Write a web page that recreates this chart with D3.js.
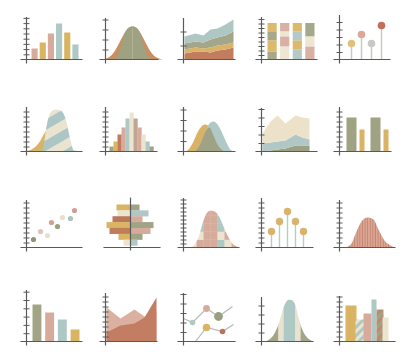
<!DOCTYPE html>
<html>
<head>
<meta charset="utf-8">
<script src="https://cdn.jsdelivr.net/npm/d3@7"></script>
<style>
  body { margin: 0; background: #fff; }
</style>
</head>
<body>
<div id="chart"></div>
<script>
const W = 414, H = 360;

// palette
const C = {
  sage: "#a0a385", mustard: "#d9b462", rose: "#d7ab9c", blue: "#aec8c5",
  cream: "#ece4cf", terra: "#c07b5f", gray: "#c9c9c5", axis: "#595959"
};

// ---- data ----
// row 1
const barsA = [11, 17, 26, 36, 27, 15];
const barsAColors = [C.rose, C.mustard, C.rose, C.blue, C.mustard, C.blue];

const bellOuterA = [[-4,0],[3,2],[9,8],[14,17],[20,28],[27,33],[34,28],[40,17],[45,8],[51,2],[58,0]];
const bellInnerA = [[9,0],[13,6],[16,15],[19,25],[22,31],[27,33],[32,31],[35,25],[38,15],[41,6],[45,0]];

const stackX = [1, 12, 20, 27, 34, 42, 50];
const stackTerra = [6, 8, 8, 7, 9, 10, 12];
const stackMustard = [4, 4, 3, 5, 5, 5, 5];
const stackSage = [6, 6, 6, 8, 8, 9, 11];
const stackBlue = [7, 8, 7, 10, 9, 11, 12];

const pctBars = [[21, 31, 25, 23], [35, 28, 14, 23], [26, 26, 25, 23], [35, 28, 37]];
const pctColors = [
  ["#a5a88b", "#dcb96b", "#a5a88b", "#dcb96b"],
  ["#eee6d3", "#d9b0a3", "#eee6d3", "#d9b0a3"],
  ["#b2cbc8", "#dcb96b", "#b2cbc8", "#dcb96b"],
  ["#d9b0a3", "#eee6d3", "#a5a88b"]
];

const lolliA = [16, 25, 16, 34];
const lolliAColors = ["#dcc27a", "#dba796", "#c8c8c4", "#c06f58"];

// row 2
const bellOuterB = [[-6,0],[2,1],[8,4],[14,11],[19,20],[25,24],[31,20],[36,11],[42,4],[48,1],[56,0]];
const bellInnerB = [[15,0],[17,4],[19,19],[21,30],[24,39],[29,42],[34,41],[39,33],[42,20],[45,7],[47,0]];

const histB = [5, 10, 17, 24, 33, 39, 33, 24, 17, 10, 5];
const histBColors = [C.sage, C.mustard, C.terra, C.rose, C.blue, C.cream, "#bfa594", C.rose, C.cream, C.blue, C.sage];

const overlapX = [2, 6, 10, 14, 18, 22, 26, 30, 34, 38, 42, 46, 50];
const overlapMustard = [0, 3, 10, 19, 25, 27, 24, 16, 7, 2, 0, 0, 0];
const overlapBlue = [0, 0, 0, 3, 10, 20, 28, 30, 27, 20, 11, 3, 0];

const layerX = [1, 9, 16, 24, 34, 41, 48];
const layerSage = [0, 1, 2, 3, 6, 6, 6];
const layerBlue = [8, 8, 8, 8, 11, 8, 6];
const layerCream = [10, 21, 26, 17, 19, 20, 21];

const groupSage = [34, 34];
const groupMustard = [22, 22];

// row 3
const scatterX = [7, 14, 21, 25, 31, 36, 44, 48];
const scatterY = [8, 16, 12, 25, 21, 30, 29, 37];
const scatterColors = ["#8f9479", "#dcc3bd", "#e8e0cb", "#d4a08f", "#9a9f80", "#e8e0cb", "#a9c4c2", "#d49c92"];

const pyrLeft = [14, 13, 18, 24, 21, 12, 7];
const pyrRight = [9, 18, 12, 23, 20, 12, 7];
const pyrLeftColors = [C.mustard, C.cream, "#b9795a", C.mustard, "#bf7d5c", C.mustard, C.cream];
const pyrRightColors = [C.sage, C.blue, C.rose, C.sage, C.rose, C.sage, C.blue];

const bellPatch = [[7,0],[11,3],[15,10],[20,27],[23,34],[27,37],[31,36],[35,32],[40,21],[44,12],[48,5],[53,1],[57,0]];
const patchColors = [ // rows bottom to top
  [C.cream, C.rose, C.rose, C.rose, C.blue, C.cream, C.rose],
  [C.blue, C.cream, C.rose, C.rose, C.cream, C.rose, C.cream],
  [C.cream, C.blue, C.rose, C.rose, C.blue, C.cream, C.blue],
  [C.rose, C.blue, C.rose, C.rose, C.blue, C.rose, C.cream],
  [C.cream, C.cream, C.rose, C.rose, C.cream, C.cream, C.cream]
];

const lolliC = [16, 26, 36, 26, 16];

const bellStripe = [[6,0],[12,4],[17,16],[22,26],[28,30],[34,28],[39,18],[45,7],[51,2],[56,0]];

// row 4
const barsD = [37, 29, 22, 12];
const barsDColors = ["#a1a586", C.rose, C.blue, C.mustard];

const mountX = [1, 15, 29, 39, 51];
const mountRose = [34, 23, 32, 25, 30];
const mountTerra = [9, 16, 18, 24, 44];

const line1X = [0, 9, 23, 35, 49];
const line1Y = [23, 19, 33, 25, 35];
const line2X = [12, 23, 39, 50];
const line2Y = [0, 14, 10, 17];
const markers = [
  { s: 1, i: 1, r: 2.8, c: C.blue }, { s: 1, i: 2, r: 3.4, c: C.rose }, { s: 1, i: 3, r: 4.4, c: "#9a9f80" },
  { s: 2, i: 1, r: 3.8, c: "#dbb566" }, { s: 2, i: 2, r: 2.8, c: "#b9735c" }
];

const bellBand = [[4,0],[9,3],[13,8],[18,20],[22,34],[25,40],[28,42],[31,41],[34,36],[37,24],[40,14],[44,6],[48,2],[52,0]];
const bandEdges = [4, 17, 22, 34, 39, 52];
const bandColors = ["#a3a587", "#e9e2cf", C.blue, "#e9e2cf", "#a3a587"];

const binX0 = [6, 16, 24, 32, 37, 43];
const binX1 = [17, 25, 32, 37, 44, 49];
const binVals = [36, 22, 28, 42, 32, 24];
const binFills = [C.mustard, "url(#stripeBC2)", C.rose, C.blue, "url(#stripeST)", C.cream];

// ---- layout ----
const colX = [26.5, 105.5, 183.5, 261.5, 339.5];
const rowY = [59.5, 151.5, 247.5, 341.5];

const svg = d3.select("#chart").append("svg").attr("width", W).attr("height", H);
const defs = svg.append("defs");

function stripePattern(id, bg, fg, size, band, angle) {
  const pat = defs.append("pattern").attr("id", id)
    .attr("patternUnits", "userSpaceOnUse")
    .attr("width", size).attr("height", size)
    .attr("patternTransform", `rotate(${angle})`);
  pat.append("rect").attr("width", size).attr("height", size).attr("fill", bg);
  pat.append("rect").attr("width", size).attr("height", band).attr("fill", fg);
}
stripePattern("stripeBC", "#e9e3cf", "#abc6c4", 18, 9, -30);
stripePattern("stripeBC2", C.cream, C.blue, 6, 3, -45);
stripePattern("stripeST", C.sage, "#c4866a", 6, 2.5, -45);

const vp = defs.append("pattern").attr("id", "vstripe")
  .attr("patternUnits", "userSpaceOnUse").attr("width", 2.6).attr("height", 10);
vp.append("rect").attr("width", 2.6).attr("height", 10).attr("fill", "#dba796");
vp.append("rect").attr("x", 1.7).attr("width", 0.9).attr("height", 10).attr("fill", "#c5826d");

const idX = d3.scaleLinear().domain([0, 60]).range([0, 60]);

function panel(c, r, top, tickStep, xLen) {
  const g = svg.append("g").attr("transform", `translate(${colX[c]},${rowY[r]})`);
  const h = rowY[r] - top;
  const y = d3.scaleLinear().domain([0, h]).range([0, -h]);
  return { g, y, h, tickStep, xLen };
}

function drawAxes(p) {
  const { g, y, h, tickStep, xLen } = p;
  if (tickStep) {
    const ax = g.append("g")
      .call(d3.axisLeft(y).tickValues(d3.range(tickStep, h + 0.5, tickStep)).tickSize(3).tickFormat(""));
    ax.select(".domain").remove();
    ax.selectAll(".tick line").attr("x1", -3).attr("x2", 3)
      .attr("stroke", C.axis).attr("stroke-width", 1);
  }
  g.append("line").attr("x1", 0).attr("x2", 0).attr("y1", -h).attr("y2", 4)
    .attr("stroke", C.axis).attr("stroke-width", 1.2);
  g.append("line").attr("x1", -6).attr("x2", xLen).attr("y1", 0).attr("y2", 0)
    .attr("stroke", C.axis).attr("stroke-width", 1.2);
}

function bellArea(p) {
  return d3.area().x(d => idX(d[0])).y0(p.y(0)).y1(d => p.y(d[1])).curve(d3.curveMonotoneX);
}

// ===== Row 1 =====
{ // bars
  const p = panel(0, 0, 17, 5.2, 56);
  const x = d3.scaleBand().domain(d3.range(barsA.length)).range([5, 52]).paddingInner(0.25);
  p.g.selectAll(null).data(barsA).join("rect")
    .attr("x", (d, i) => x(i)).attr("width", x.bandwidth())
    .attr("y", d => p.y(d)).attr("height", d => p.y(0) - p.y(d))
    .attr("fill", (d, i) => barsAColors[i]);
  drawAxes(p);
}
{ // bell with tails
  const p = panel(1, 0, 18, 10, 53);
  const a = bellArea(p);
  p.g.append("path").datum(bellOuterA).attr("d", a).attr("fill", "#c98e62");
  p.g.append("path").datum(bellInnerA).attr("d", a).attr("fill", "#9ea283");
  p.g.append("line").attr("x1", idX(27)).attr("x2", idX(27)).attr("y1", p.y(31)).attr("y2", p.y(0))
    .attr("stroke", "#b5b89c").attr("stroke-width", 0.8);
  drawAxes(p);
}
{ // stacked area
  const p = panel(2, 0, 18, 14, 52);
  const rows = stackX.map((x, i) => ({ x, terra: stackTerra[i], mustard: stackMustard[i], sage: stackSage[i], blue: stackBlue[i] }));
  const keys = ["terra", "mustard", "sage", "blue"];
  const fills = { terra: "#c27c5e", mustard: "#d9b468", sage: "#a3a689", blue: "#afc7c3" };
  const series = d3.stack().keys(keys)(rows);
  const area = d3.area().x(d => idX(d.data.x)).y0(d => p.y(d[0])).y1(d => p.y(d[1]));
  p.g.selectAll(null).data(series).join("path").attr("d", area).attr("fill", d => fills[d.key]);
  drawAxes(p);
}
{ // 100% stacked
  const p = panel(3, 0, 17, 4.5, 56);
  const x = d3.scaleBand().domain(d3.range(pctBars.length)).range([6, 53]).paddingInner(0.27);
  const y100 = d3.scaleLinear().domain([0, 100]).range([-0.5, -36.5]);
  pctBars.forEach((segs, b) => {
    const ends = d3.cumsum(segs);
    p.g.selectAll(null).data(segs).join("rect")
      .attr("x", x(b)).attr("width", x.bandwidth())
      .attr("y", (d, i) => y100(ends[i]))
      .attr("height", (d, i) => y100(ends[i] - d) - y100(ends[i]))
      .attr("fill", (d, i) => pctColors[b][i]);
  });
  drawAxes(p);
}
{ // lollipops
  const p = panel(4, 0, 15, 7.5, 51);
  const x = d3.scalePoint().domain(d3.range(lolliA.length)).range([12, 42]);
  p.g.selectAll(null).data(lolliA).join("line")
    .attr("x1", (d, i) => x(i)).attr("x2", (d, i) => x(i))
    .attr("y1", p.y(0)).attr("y2", d => p.y(d))
    .attr("stroke", "#c9c9c6").attr("stroke-width", 1.5);
  p.g.selectAll(null).data(lolliA).join("circle")
    .attr("cx", (d, i) => x(i)).attr("cy", d => p.y(d)).attr("r", 3.8)
    .attr("fill", (d, i) => lolliAColors[i]);
  drawAxes(p);
}

// ===== Row 2 =====
{ // striped bell
  const p = panel(0, 1, 107, 5, 56);
  const a = bellArea(p);
  p.g.append("path").datum(bellOuterB).attr("d", a).attr("fill", "#d8b468");
  p.g.append("path").datum(bellInnerB).attr("d", a).attr("fill", "url(#stripeBC)");
  drawAxes(p);
}
{ // histogram
  const p = panel(1, 1, 107, 5, 52);
  const x = d3.scaleBand().domain(d3.range(histB.length)).range([4, 48]);
  p.g.selectAll(null).data(histB).join("rect")
    .attr("x", (d, i) => x(i)).attr("width", x.bandwidth() + 0.2)
    .attr("y", d => p.y(d)).attr("height", d => p.y(0) - p.y(d))
    .attr("fill", (d, i) => histBColors[i]);
  drawAxes(p);
}
{ // overlapping bells
  const p = panel(2, 1, 107, 10.5, 52);
  const area = vals => d3.area().x((d, i) => idX(overlapX[i])).y0(p.y(0)).y1(d => p.y(d)).curve(d3.curveMonotoneX)(vals);
  const both = overlapMustard.map((v, i) => Math.min(v, overlapBlue[i]));
  p.g.append("path").attr("d", area(overlapMustard)).attr("fill", "#d9b266");
  p.g.append("path").attr("d", area(overlapBlue)).attr("fill", "#b0c9c6");
  p.g.append("path").attr("d", area(both)).attr("fill", "#9fa284");
  drawAxes(p);
}
{ // layered area
  const p = panel(3, 1, 108, 8.5, 56);
  const rows = layerX.map((x, i) => ({ x, sage: layerSage[i], blue: layerBlue[i], cream: layerCream[i] }));
  const fills = { sage: "#9da083", blue: "#afc8c5", cream: "#ebe2c9" };
  const series = d3.stack().keys(["sage", "blue", "cream"])(rows);
  const area = d3.area().x(d => idX(d.data.x)).y0(d => p.y(d[0])).y1(d => p.y(d[1]));
  p.g.selectAll(null).data(series).join("path").attr("d", area).attr("fill", d => fills[d.key]);
  drawAxes(p);
}
{ // grouped bars
  const p = panel(4, 1, 107, 5, 52);
  const x0 = d3.scaleBand().domain(d3.range(groupSage.length)).range([7, 55]);
  p.g.selectAll(null).data(groupSage).join("rect")
    .attr("x", (d, i) => x0(i)).attr("width", 10)
    .attr("y", d => p.y(d)).attr("height", d => p.y(0) - p.y(d)).attr("fill", "#9fa283");
  p.g.selectAll(null).data(groupMustard).join("rect")
    .attr("x", (d, i) => x0(i) + 13).attr("width", 5)
    .attr("y", d => p.y(d)).attr("height", d => p.y(0) - p.y(d)).attr("fill", "#d9b466");
  drawAxes(p);
}

// ===== Row 3 =====
{ // scatter
  const p = panel(0, 2, 200, 5, 56);
  p.g.selectAll(null).data(scatterX).join("circle")
    .attr("cx", d => idX(d)).attr("cy", (d, i) => p.y(scatterY[i])).attr("r", 2.6)
    .attr("fill", (d, i) => scatterColors[i]);
  drawAxes(p);
}
{ // diverging bars
  const g = svg.append("g").attr("transform", `translate(130.5,${rowY[2]})`);
  const yb = d3.scaleBand().domain(d3.range(pyrLeft.length)).range([-43, -2]);
  const xs = d3.scaleLinear().domain([0, 30]).range([0, 30]);
  g.selectAll(null).data(pyrLeft).join("rect")
    .attr("x", d => -xs(d)).attr("width", d => xs(d))
    .attr("y", (d, i) => yb(i)).attr("height", yb.bandwidth() + 0.2)
    .attr("fill", (d, i) => pyrLeftColors[i]);
  g.selectAll(null).data(pyrRight).join("rect")
    .attr("x", 0).attr("width", d => xs(d))
    .attr("y", (d, i) => yb(i)).attr("height", yb.bandwidth() + 0.2)
    .attr("fill", (d, i) => pyrRightColors[i]);
  g.append("line").attr("x1", 0).attr("x2", 0).attr("y1", -50).attr("y2", 3)
    .attr("stroke", C.axis).attr("stroke-width", 1.2);
  g.append("line").attr("x1", -27).attr("x2", 30).attr("y1", 0).attr("y2", 0)
    .attr("stroke", C.axis).attr("stroke-width", 1.2);
}
{ // patchwork bell
  const p = panel(2, 2, 198, 4, 56);
  const clip = defs.append("clipPath").attr("id", "clipPatch");
  clip.append("path").datum(bellPatch).attr("d", bellArea(p));
  const cx = d3.scaleBand().domain(d3.range(7)).range([6, 55]);
  const cy = d3.scaleBand().domain(d3.range(5).reverse()).range([-40, 0]);
  const cells = patchColors.flatMap((row, r) => row.map((c, k) => ({ r, k, c })));
  p.g.append("g").attr("clip-path", "url(#clipPatch)")
    .selectAll("rect").data(cells).join("rect")
    .attr("x", d => cx(d.k)).attr("width", cx.bandwidth() + 0.3)
    .attr("y", d => cy(d.r)).attr("height", cy.bandwidth() + 0.3)
    .attr("fill", d => d.c);
  drawAxes(p);
}
{ // mustard lollipops
  const p = panel(3, 2, 198, 5, 52);
  const x = d3.scalePoint().domain(d3.range(lolliC.length)).range([10, 42]);
  p.g.selectAll(null).data(lolliC).join("line")
    .attr("x1", (d, i) => x(i)).attr("x2", (d, i) => x(i))
    .attr("y1", p.y(0)).attr("y2", d => p.y(d))
    .attr("stroke", "#b9cbc9").attr("stroke-width", 1.4);
  p.g.selectAll(null).data(lolliC).join("circle")
    .attr("cx", (d, i) => x(i)).attr("cy", d => p.y(d)).attr("r", 3.7)
    .attr("fill", "#d9b36c");
  drawAxes(p);
}
{ // striped bell
  const p = panel(4, 2, 200, 5, 56);
  p.g.append("path").datum(bellStripe).attr("d", bellArea(p)).attr("fill", "url(#vstripe)");
  drawAxes(p);
}

// ===== Row 4 =====
{ // descending bars
  const p = panel(0, 3, 290, 8.3, 56);
  const x = d3.scaleBand().domain(d3.range(barsD.length)).range([6, 53]).paddingInner(0.3);
  p.g.selectAll(null).data(barsD).join("rect")
    .attr("x", (d, i) => x(i)).attr("width", x.bandwidth())
    .attr("y", d => p.y(d)).attr("height", d => p.y(0) - p.y(d))
    .attr("fill", (d, i) => barsDColors[i]);
  drawAxes(p);
}
{ // mountains
  const p = panel(1, 3, 293, 5, 52);
  const area = vals => d3.area().x((d, i) => idX(mountX[i])).y0(p.y(0)).y1(d => p.y(d))(vals);
  p.g.append("path").attr("d", area(mountRose)).attr("fill", "#dcb0a1");
  p.g.append("path").attr("d", area(mountTerra)).attr("fill", "#c27d62");
  drawAxes(p);
}
{ // lines with markers
  const p = panel(2, 3, 293, 9.5, 52);
  const line = d3.line().x(d => idX(d[0])).y(d => p.y(d[1]));
  const l1 = line1X.map((x, i) => [x, line1Y[i]]);
  const l2 = line2X.map((x, i) => [x, line2Y[i]]);
  p.g.append("path").datum(l1).attr("d", line).attr("fill", "none").attr("stroke", "#b8b8b6").attr("stroke-width", 1.2);
  p.g.append("path").datum(l2).attr("d", line).attr("fill", "none").attr("stroke", "#b8b8b6").attr("stroke-width", 1.2);
  p.g.selectAll(null).data(markers).join("circle")
    .attr("cx", d => idX((d.s === 1 ? l1 : l2)[d.i][0]))
    .attr("cy", d => p.y((d.s === 1 ? l1 : l2)[d.i][1]))
    .attr("r", d => d.r).attr("fill", d => d.c);
  drawAxes(p);
}
{ // banded bell
  const p = panel(3, 3, 297, 9, 52);
  const clip = defs.append("clipPath").attr("id", "clipBand");
  clip.append("path").datum(bellBand).attr("d", bellArea(p));
  p.g.append("g").attr("clip-path", "url(#clipBand)")
    .selectAll("rect").data(bandColors).join("rect")
    .attr("x", (d, i) => idX(bandEdges[i])).attr("width", (d, i) => idX(bandEdges[i + 1]) - idX(bandEdges[i]))
    .attr("y", p.y(46)).attr("height", p.y(0) - p.y(46))
    .attr("fill", d => d);
  drawAxes(p);
}
{ // mixed bins
  const p = panel(4, 3, 296, 5, 56);
  p.g.selectAll(null).data(binVals).join("rect")
    .attr("x", (d, i) => idX(binX0[i])).attr("width", (d, i) => idX(binX1[i]) - idX(binX0[i]))
    .attr("y", d => p.y(d)).attr("height", d => p.y(0) - p.y(d))
    .attr("fill", (d, i) => binFills[i]);
  drawAxes(p);
}
</script>
</body>
</html>
